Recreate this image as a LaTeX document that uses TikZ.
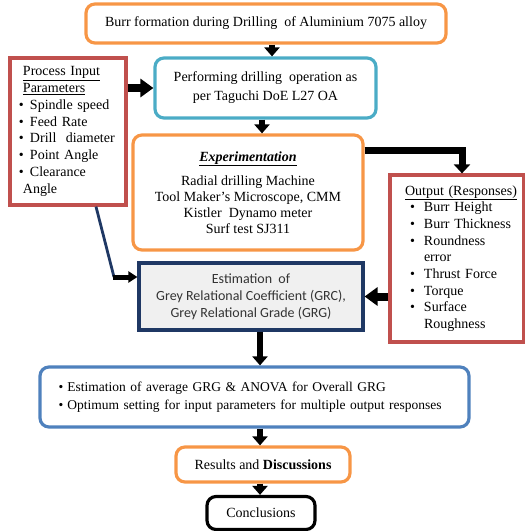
\documentclass[tikz,border=0pt]{standalone}
\usepackage{fontspec}
\setmainfont{Liberation Serif}
\newfontfamily\calib{Carlito}
\usetikzlibrary{arrows.meta}
\definecolor{orng}{HTML}{F79646}
\definecolor{cyanb}{HTML}{4BACC6}
\definecolor{redb}{HTML}{C0504D}
\definecolor{navy}{HTML}{1F3864}
\definecolor{blueb}{HTML}{4F81BD}
\begin{document}
\begin{tikzpicture}[x=1pt,y=-1pt,
  box/.style={draw, line width=3.2pt, inner sep=0pt, align=center,
    font=\fontsize{14}{16.5}\selectfont},
  rbox/.style={box, rounded corners=9pt},
  blk/.style={line width=5.5pt, -{Triangle[width=15pt,length=9pt]}},
  fat/.style={line width=8pt, -{Triangle[width=18pt,length=13pt]}}
]
\useasboundingbox (0,0) rectangle (525,531);

\node[rbox, draw=orng, minimum width=360pt, minimum height=39pt] (b1) at (266,23.5)
  {Burr formation during Drilling\ \ of Aluminium 7075 alloy};

\node[rbox, draw=cyanb, minimum width=221pt, minimum height=60pt,
  font=\fontsize{14}{19}\selectfont] (b2) at (265.5,88)
  {Performing drilling\ \ operation as\\per Taguchi DoE L27 OA};

\node[box, draw=redb, minimum width=116pt, minimum height=147pt,
  text width=98pt, align=left, font=\fontsize{14}{16.8}\selectfont] (b3) at (68,131.5)
  {\hspace*{4pt}\underline{Process Input}\\
   \hspace*{4pt}\underline{Parameters}\\
   \makebox[11pt][l]{•}Spindle speed\\
   \makebox[11pt][l]{•}Feed Rate\\
   \makebox[11pt][l]{•}Drill\ \ diameter\\
   \makebox[11pt][l]{•}Point Angle\\
   \makebox[11pt][l]{•}Clearance\\
   \hspace*{4pt}Angle};

\node[rbox, draw=orng, minimum width=230pt, minimum height=115pt,
  font=\fontsize{14}{16}\selectfont] (b4) at (248,192.5)
  {\textbf{\textit{\underline{Experimentation}}}\\[8pt]
   Radial drilling\ Machine\\
   Tool Maker’s Microscope, CMM\\
   Kistler\ \ Dynamo meter\\
   Surf test SJ311};

\node[box, draw=redb, minimum width=134pt, minimum height=167pt,
  text width=112pt, align=left, font=\fontsize{14}{16.7}\selectfont] (b5) at (457,258.5)
  {\hspace*{4pt}\underline{Output (Responses)}\\
   \hspace*{9pt}\makebox[14pt][l]{•}Burr Height\\
   \hspace*{9pt}\makebox[14pt][l]{•}Burr Thickness\\
   \hspace*{9pt}\makebox[14pt][l]{•}Roundness\\
   \hspace*{23pt}error\\
   \hspace*{9pt}\makebox[14pt][l]{•}Thrust Force\\
   \hspace*{9pt}\makebox[14pt][l]{•}Torque\\
   \hspace*{9pt}\makebox[14pt][l]{•}Surface\\
   \hspace*{23pt}Roughness};

\node[box, draw=navy, fill=black!6, minimum width=224pt, minimum height=67pt,
  text=black!80, font=\calib\fontsize{14}{17}\selectfont] (b6) at (251,296.5)
  {Estimation\ \ of\\Grey Relational Coefficient (GRC),\\Grey Relational Grade (GRG)};

\node[rbox, draw=blueb, minimum width=429pt, minimum height=60pt,
  text width=392pt, align=left, font=\fontsize{13.5}{18}\selectfont] (b7) at (254.5,397)
  {\mbox{\makebox[9pt][l]{•}Estimation of average\ GRG \& ANOVA\ for Overall\ GRG}\\
   \mbox{\makebox[9pt][l]{•}Optimum setting for input parameters for multiple output responses}};

\node[rbox, draw=orng, minimum width=174pt, minimum height=35pt] (b8) at (263,464.5)
  {Results and \textbf{Discussions}};

\node[rbox, draw=black, minimum width=108pt, minimum height=33pt] (b9) at (261,513)
  {Conclusions};

% connectors
\coordinate (ax) at (260,0);
\coordinate (k) at (114,277);
\draw[blk] ([xshift=6pt]b1.south) -- ([xshift=6.5pt]b2.north);
\draw[fat] (b3.east |- b2.west) -- (b2.west);
\draw[blk] ([xshift=-3.5pt]b2.south) -- ([xshift=14pt]b4.north);
\draw[line width=7pt, line join=miter, -{Triangle[width=16pt,length=9pt]}]
  ([yshift=-17pt]b4.north east) -| ([xshift=5pt]b5.north);
\draw[navy, line width=2.8pt] ([xshift=28pt]b3.south) -- (k);
\draw[line width=5pt, -{Triangle[width=11pt,length=9pt]}] ([xshift=-1.5pt]k) -- (k -| b6.west);
\draw[fat] (b5.west |- b6.east) -- (b6.east);
\draw[blk] (b6.south -| ax) -- (b7.north -| ax);
\draw[blk] (b7.south -| ax) -- (b8.north -| ax);
\draw[blk] (b8.south -| ax) -- (b9.north -| ax);
\end{tikzpicture}
\end{document}
